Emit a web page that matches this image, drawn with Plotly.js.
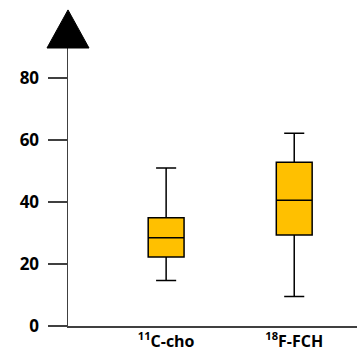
<!DOCTYPE html>
<html><head><meta charset="utf-8">
<script src="https://cdn.plot.ly/plotly-3.0.1.min.js"></script>
<style>html,body{margin:0;padding:0;background:#fff}#c{width:357px;height:357px}</style>
</head><body><div id="c"></div>
<script>
const categories = ["<sup>11</sup>C-cho", "<sup>18</sup>F-FCH"];
const lowerWhisker = [14.7, 9.5];
const q1Values = [22.3, 29.4];
const medianValues = [28.5, 40.6];
const q3Values = [34.9, 52.8];
const upperWhisker = [51.0, 62.2];
const yTickValues = [0, 20, 40, 60, 80];
const yTickLabels = ["0", "20", "40", "60", "80"];

const font = {family: "'Open Sans', sans-serif", size: 17, color: "#000"};

const trace = {
  type: "box",
  x: categories,
  q1: q1Values,
  median: medianValues,
  q3: q3Values,
  lowerfence: lowerWhisker,
  upperfence: upperWhisker,
  width: 0.28,
  whiskerwidth: 0.56,
  fillcolor: "#FFC000",
  line: {color: "#000", width: 1.5},
  boxpoints: false,
  hoverinfo: "skip",
  showlegend: false
};

const layout = {
  width: 357, height: 357,
  margin: {l: 68, r: 0, t: 48, b: 31},
  paper_bgcolor: "#fff", plot_bgcolor: "#fff",
  font: font,
  showlegend: false,
  xaxis: {
    type: "category",
    range: [-0.766, 1.49],
    showline: true, linecolor: "#404040", linewidth: 1.5,
    ticks: "", showgrid: false, zeroline: false,
    tickfont: {family: font.family, size: 16, color: "#000", weight: "bold"},
    fixedrange: true
  },
  yaxis: {
    range: [0, 89.7],
    tickvals: yTickValues, ticktext: yTickLabels,
    showline: true, linecolor: "#404040", linewidth: 1.5,
    ticks: "outside", ticklen: 19, tickwidth: 1.5, tickcolor: "#404040",
    ticklabelstandoff: 5,
    showgrid: false, zeroline: false,
    tickfont: {family: font.family, size: 17, color: "#000", weight: "bold"},
    fixedrange: true
  },
  shapes: [{
    type: "path", xref: "paper", yref: "paper",
    path: "M -0.0727 1 L 0 1.137 L 0.0727 1 Z",
    fillcolor: "#000", line: {color: "#000", width: 1}, layer: "above"
  }]
};

Plotly.newPlot("c", [trace], layout, {staticPlot: true, displayModeBar: false});
</script>
</body></html>
